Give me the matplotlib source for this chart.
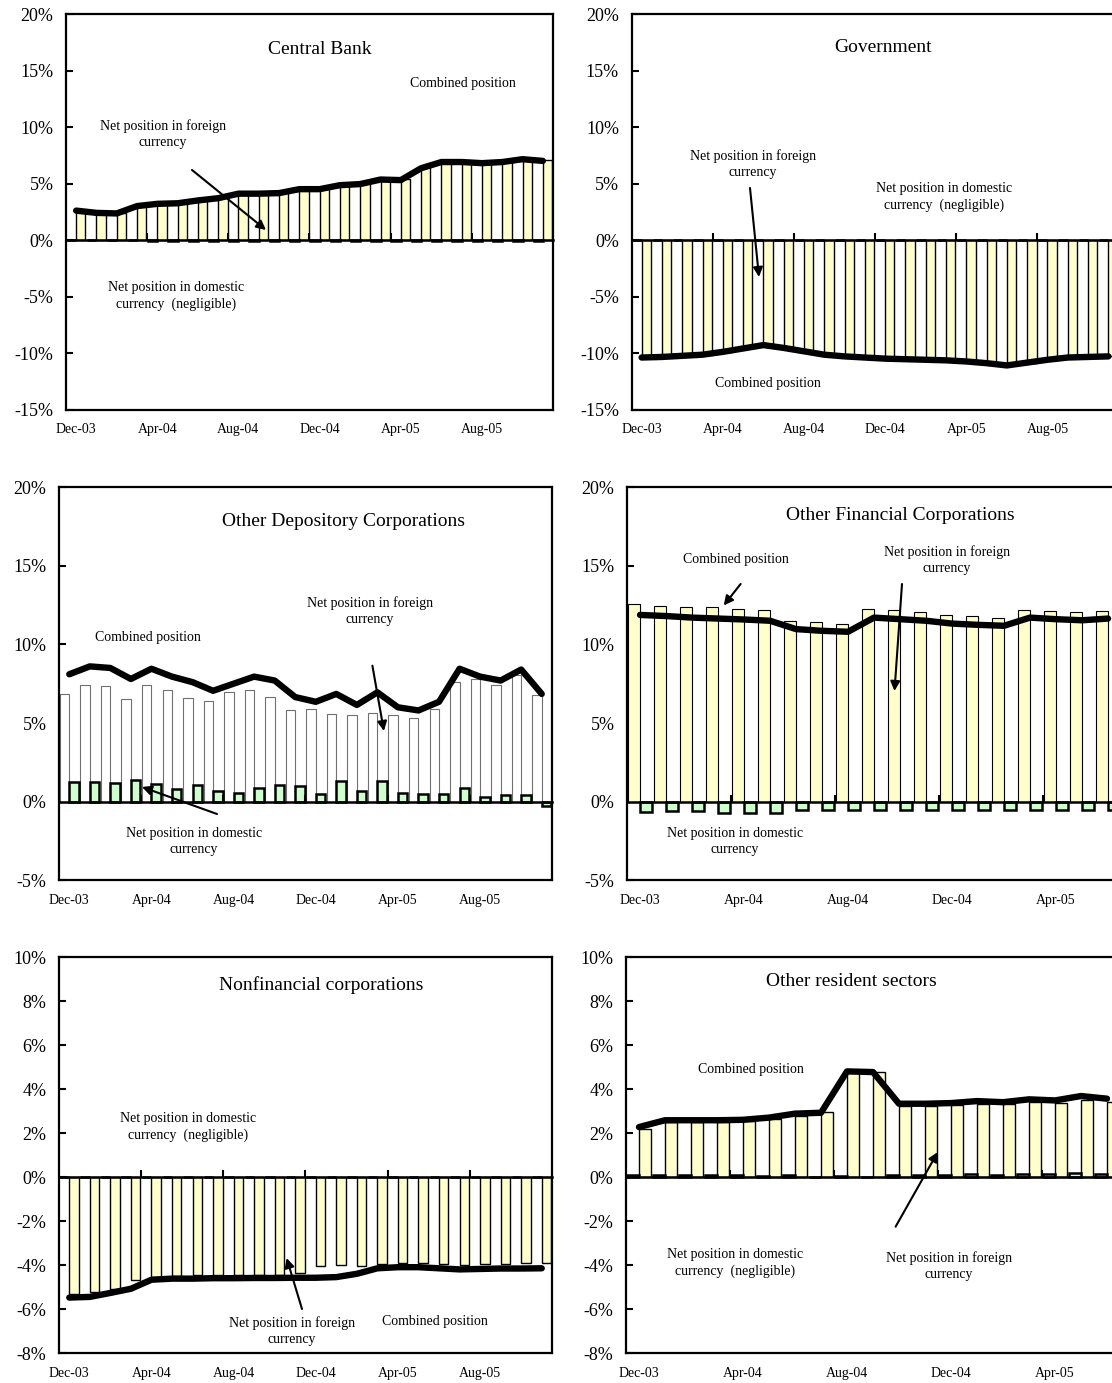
import matplotlib
matplotlib.use("Agg")
import matplotlib.pyplot as plt

W, H, DPI = 1112, 1383, 100
plt.rcParams['font.family'] = ['Liberation Serif', 'DejaVu Serif']

YELLOW = '#FFFFCC'
GREEN = '#CCFFCC'

tick_idx = [0, 4, 8, 12, 16, 20]
tick_labels = ["Dec-03", "Apr-04", "Aug-04", "Dec-04", "Apr-05", "Aug-05"]

# ---------------- data (percent) ----------------
cb_foreign = [2.6, 2.4, 2.35, 3.0, 3.3, 3.35, 3.6, 3.8, 4.2, 4.2, 4.25, 4.6,
              4.6, 4.95, 5.05, 5.45, 5.4, 6.45, 7.0, 7.0, 6.9, 7.0, 7.25, 7.1]
cb_domestic = [0.0, 0.0, 0.0, 0.0, -0.1, -0.1, -0.1, -0.1, -0.1, -0.1, -0.1, -0.1,
               -0.1, -0.1, -0.1, -0.1, -0.1, -0.1, -0.1, -0.1, -0.1, -0.1, -0.1, -0.1]
cb_combined = [2.6, 2.4, 2.35, 3.0, 3.2, 3.25, 3.5, 3.7, 4.1, 4.1, 4.15, 4.5,
               4.5, 4.85, 4.95, 5.35, 5.3, 6.35, 6.9, 6.9, 6.8, 6.9, 7.15, 7.0]

gov_foreign = [-10.4, -10.35, -10.25, -10.15, -9.9, -9.6, -9.3, -9.55, -9.85, -10.15, -10.3, -10.4,
               -10.5, -10.55, -10.6, -10.65, -10.75, -10.9, -11.1, -10.85, -10.6, -10.4, -10.35, -10.3]
gov_domestic = [0.0] * 24
gov_combined = [-10.4, -10.35, -10.25, -10.15, -9.9, -9.6, -9.3, -9.55, -9.85, -10.15, -10.3, -10.4,
                -10.5, -10.55, -10.6, -10.65, -10.75, -10.9, -11.1, -10.85, -10.6, -10.4, -10.35, -10.3]

odc_foreign = [6.87, 7.4, 7.35, 6.5, 7.4, 7.1, 6.6, 6.4, 6.95, 7.1, 6.65, 5.8,
               5.9, 5.55, 5.5, 5.65, 5.5, 5.35, 5.9, 7.6, 7.8, 7.4, 8.05, 6.8]
odc_domestic = [1.26, 1.24, 1.2, 1.4, 1.13, 0.84, 1.05, 0.67, 0.57, 0.88, 1.07, 0.99,
                0.5, 1.3, 0.67, 1.3, 0.57, 0.5, 0.46, 0.88, 0.3, 0.4, 0.42, -0.25]
odc_combined = [8.1, 8.6, 8.5, 7.8, 8.45, 7.95, 7.6, 7.05, 7.5, 7.95, 7.7, 6.65,
                6.35, 6.85, 6.15, 6.95, 6.0, 5.8, 6.35, 8.45, 7.95, 7.7, 8.4, 6.85]

ofc_foreign = [12.54, 12.44, 12.35, 12.35, 12.25, 12.16, 11.47, 11.39, 11.3, 12.25,
               12.16, 12.06, 11.89, 11.79, 11.7, 12.2, 12.12, 12.04, 12.12]
ofc_domestic = [-0.65, -0.62, -0.62, -0.7, -0.7, -0.7, -0.5, -0.5, -0.5, -0.5,
                -0.5, -0.5, -0.5, -0.5, -0.5, -0.5, -0.5, -0.5, -0.5]
ofc_combined = [11.87, 11.8, 11.7, 11.64, 11.58, 11.5, 10.97, 10.86, 10.8, 11.7,
                11.6, 11.5, 11.32, 11.24, 11.18, 11.7, 11.6, 11.53, 11.64]

nfc_foreign = [-5.3, -5.23, -5.08, -4.7, -4.55, -4.5, -4.47, -4.47, -4.44, -4.44, -4.44, -4.35,
               -4.06, -4.02, -4.06, -3.94, -3.9, -3.9, -3.94, -3.98, -3.97, -3.94, -3.9, -3.9]
nfc_domestic = [0.0] * 24
nfc_combined = [-5.48, -5.45, -5.27, -5.08, -4.67, -4.62, -4.62, -4.6, -4.6, -4.59, -4.59, -4.58,
                -4.58, -4.55, -4.4, -4.15, -4.1, -4.1, -4.15, -4.2, -4.18, -4.16, -4.16, -4.15]

ors_foreign = [2.2, 2.5, 2.5, 2.5, 2.53, 2.65, 2.77, 2.95, 4.77, 4.77,
               3.23, 3.23, 3.26, 3.33, 3.3, 3.41, 3.36, 3.52, 3.41]
ors_domestic = [0.07, 0.08, 0.08, 0.08, 0.07, 0.05, 0.1, 0.0, 0.03, 0.0,
                0.1, 0.1, 0.1, 0.12, 0.1, 0.12, 0.12, 0.16, 0.15]
ors_combined = [2.27, 2.58, 2.58, 2.58, 2.6, 2.7, 2.88, 2.92, 4.8, 4.77,
                3.33, 3.33, 3.36, 3.45, 3.4, 3.53, 3.48, 3.68, 3.56]

fig = plt.figure(figsize=(W / DPI, H / DPI), dpi=DPI)
fig.patch.set_facecolor('white')


def fx(x):
    return x / W


def fy(y):
    return 1 - y / H


def panel(rect, ylim, ystep, n_slots, foreign, domestic, combined, foreign_left,
          fcol, fedge, flw):
    l, t, r, b = rect
    ax = fig.add_axes([l / W, 1 - b / H, (r - l) / W, (b - t) / H])
    n = len(foreign)
    xs = list(range(n))
    off, w = 0.23, 0.46
    xf = [i - off if foreign_left else i + off for i in xs]
    xd = [i + off if foreign_left else i - off for i in xs]
    ax.bar(xf, foreign, width=w, color=fcol, edgecolor=fedge, linewidth=flw, zorder=2)
    ax.bar(xd, domestic, width=w, color=GREEN, edgecolor='black', linewidth=1.8, zorder=2)
    ax.plot(xs, combined, color='black', lw=4.6, solid_joinstyle='round',
            solid_capstyle='round', zorder=5)
    yt = list(range(ylim[0], ylim[1] + 1, ystep))
    ax.set_yticks(yt, [f"{v}%" for v in yt])
    keep = [k for k, i in enumerate(tick_idx) if i < n_slots]
    ax.set_xticks([tick_idx[k] for k in keep], [tick_labels[k] for k in keep])
    ax.set_xlim(-0.5, n_slots - 0.5)
    ax.set_ylim(*ylim)
    ax.tick_params(axis='y', direction='in', length=5, width=1.5, labelsize=13, pad=9)
    ax.tick_params(axis='x', length=0, labelsize=10, pad=10)
    for s in ax.spines.values():
        s.set_linewidth(1.6)
        s.set_zorder(6)
    # zero axis with category-boundary tick marks
    frac = (0 - ylim[0]) / (ylim[1] - ylim[0])
    sec = ax.secondary_xaxis(frac)
    sec.set_xticks([k - 0.5 for k in range(4, n_slots, 4)])
    sec.tick_params(axis='x', direction='in', length=5, width=1.5,
                    labelbottom=False, labeltop=False)
    for s in sec.spines.values():
        s.set_linewidth(1.8)
    sec.set_zorder(4)
    ax.set_xlim(-0.5, n_slots - 0.5)
    return ax


def txt(x, y, s, size=10):
    fig.text(fx(x), fy(y), s, ha='center', va='center', fontsize=size,
             linespacing=1.3, multialignment='center')


def arrow(tail, head):
    fig.add_artist(matplotlib.patches.FancyArrowPatch(
        (fx(tail[0]), fy(tail[1])), (fx(head[0]), fy(head[1])),
        transform=fig.transFigure, arrowstyle='-|>', mutation_scale=14,
        color='black', lw=1.5, shrinkA=0, shrinkB=0, zorder=10))


FOREIGN = "Net position in foreign\ncurrency"
DOM = "Net position in domestic\ncurrency"
DOMN = "Net position in domestic\ncurrency  (negligible)"
COMB = "Combined position"

# Central Bank
panel((66, 14, 553, 409.5), (-15, 20), 5, 24, cb_foreign, cb_domestic, cb_combined,
      False, YELLOW, 'black', 1.0)
txt(320, 49, "Central Bank", 14)
txt(463, 83, COMB)
txt(163, 134, FOREIGN)
arrow((192, 170), (266, 230))
txt(176, 296, DOMN)

# Government
panel((631.5, 14, 1118.5, 409.5), (-15, 20), 5, 24, gov_foreign, gov_domestic, gov_combined,
      False, YELLOW, 'black', 1.0)
txt(883, 48, "Government", 14)
txt(753, 164, FOREIGN)
arrow((750, 188), (759, 277))
txt(944, 197, DOMN)
txt(768, 384, COMB)

# Other Depository Corporations
panel((59, 487, 552, 880.4), (-5, 20), 5, 24, odc_foreign, odc_domestic, odc_combined,
      True, 'white', '#707070', 0.8)
txt(344, 521, "Other Depository Corporations", 14)
txt(370, 611, FOREIGN)
arrow((372.4, 665.7), (383.9, 731))
txt(148, 637, COMB)
txt(194, 842, DOM)
arrow((217, 814), (142, 787))

# Other Financial Corporations
panel((627, 487, 1121, 880.4), (-5, 20), 5, 19, ofc_foreign, ofc_domestic, ofc_combined,
      True, YELLOW, 'black', 0.8)
txt(900, 515, "Other Financial Corporations", 14)
txt(736, 559, COMB)
arrow((740.6, 584), (723.7, 605.5))
txt(947, 560.5, FOREIGN)
arrow((902, 584), (894.5, 691))
txt(735, 841, DOM)

# Nonfinancial corporations
panel((59, 957, 552, 1353), (-8, 10), 2, 24, nfc_foreign, nfc_domestic, nfc_combined,
      False, YELLOW, 'black', 1.0)
txt(321, 985, "Nonfinancial corporations", 14)
txt(188, 1127, DOMN)
txt(292, 1331, FOREIGN)
arrow((302, 1309), (286.6, 1258))
txt(435, 1322, COMB)

# Other resident sectors
panel((626, 957, 1120, 1353), (-8, 10), 2, 19, ors_foreign, ors_domestic, ors_combined,
      False, YELLOW, 'black', 1.0)
txt(851.5, 982, "Other resident sectors", 14)
txt(751, 1070, COMB)
txt(735, 1263, DOMN)
txt(949, 1266, FOREIGN)
arrow((895.6, 1226.7), (937.8, 1152))

fig.savefig("out.png", dpi=DPI)
